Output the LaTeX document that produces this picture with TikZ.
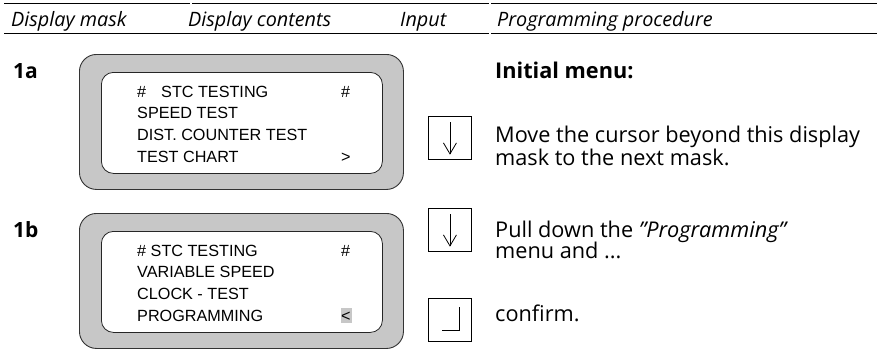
\documentclass[tikz,border=0pt]{standalone}
\usepackage{fontspec}
\setmainfont{Open Sans}
\newfontfamily\lcdfont{Liberation Sans}
\begin{document}
\begin{tikzpicture}[x=1pt,y=-1pt,
  rule/.style={line width=1pt, draw=black},
  headtext/.style={font=\fontsize{19.8}{22}\selectfont\itshape, anchor=base west, inner sep=0pt},
  steplabel/.style={font=\fontsize{21}{23}\selectfont\bfseries, anchor=base west, inner sep=0pt},
  bodytext/.style={font=\fontsize{21.7}{24}\selectfont, anchor=base west, inner sep=0pt},
  lcd/.style={font=\lcdfont\fontsize{16.2}{18}\selectfont, anchor=base west, inner sep=0pt},
  bezel/.style={draw=black!80, fill=black!22, line width=0.9pt, rounded corners=17pt,
    inner sep=0pt, anchor=north west, minimum width=324pt, minimum height=135pt},
  screen/.style={draw=black!85, fill=white, line width=0.8pt, rounded corners=12pt,
    inner sep=0pt, anchor=north west, minimum width=281pt, minimum height=101pt},
  keybox/.style={draw=black, line width=0.9pt, inner sep=0pt, anchor=north west,
    minimum width=43pt, minimum height=43pt},
  keyline/.style={line width=0.8pt, draw=black}
]
\useasboundingbox (0,0) rectangle (877,349);

% table header rules
\coordinate (t0) at (4,3);   \coordinate (t1) at (190,3);
\coordinate (t2) at (192,3); \coordinate (t3) at (489,3);
\coordinate (t4) at (491,3); \coordinate (t5) at (877,3);
\coordinate (b0) at (4,33);  \coordinate (b1) at (489,33);
\coordinate (b2) at (491,33); \coordinate (b3) at (877,33);
\draw[rule] (t0) -- (t1);
\draw[rule] (t2) -- (t3);
\draw[rule] (t4) -- (t5);
\draw[rule] (b0) -- (b1);
\draw[rule] (b2) -- (b3);

% column titles
\node[headtext] (hmask)  at (11,26)  {Display mask};
\node[headtext] (hcont)  at (188,26) {Display contents};
\node[headtext] (hinput) at (400,26) {Input};
\node[headtext] (hproc)  at (497,26) {Programming procedure};

% step 1a
\node[steplabel] (s1a) at (13,78) {1a};
\node[bezel]  (bez1) at (79,54) {};
\node[screen] (scr1) at (101,72) {};
\node[lcd] (l1a) at (137,97)  {\#};
\node[lcd] (l1b) at (161,97)  {STC TESTING};
\node[lcd] (l1c) at (341,97)  {\#};
\node[lcd] (l1d) at (137,118) {SPEED TEST};
\node[lcd] (l1e) at (137,140) {DIST. COUNTER TEST};
\node[lcd] (l1f) at (137,162) {TEST CHART};
\node[lcd] (l1g) at (341,162) {>};

\node[bodytext, font=\fontsize{21.7}{24}\selectfont\bfseries] (p1) at (495,78) {Initial menu:};
\node[keybox] (k1) at (428,116) {};
\coordinate (k1top) at ([yshift=-6pt]k1.north);
\coordinate (k1bot) at ([yshift=6pt]k1.south);
\coordinate (k1l) at ([xshift=-6.5pt,yshift=17pt]k1.south);
\coordinate (k1r) at ([xshift=6.5pt,yshift=17pt]k1.south);
\draw[keyline] (k1top) -- (k1bot);
\draw[keyline] (k1l) -- (k1bot) -- (k1r);
\node[bodytext] (p2) at (495,142) {Move the cursor beyond this display};
\node[bodytext] (p3) at (495,165) {mask to the next mask.};

% step 1b
\node[steplabel] (s1b) at (13,237) {1b};
\node[bezel]  (bez2) at (79,213) {};
\node[screen] (scr2) at (101,231) {};
\fill[black!22] (341,308) rectangle (352,323);
\node[lcd] (m1a) at (137,256) {\# STC TESTING};
\node[lcd] (m1c) at (341,256) {\#};
\node[lcd] (m1d) at (137,277) {VARIABLE SPEED};
\node[lcd] (m1e) at (137,299) {CLOCK - TEST};
\node[lcd] (m1f) at (137,321) {PROGRAMMING};
\node[lcd] (m1g) at (341,321) {<};

\node[keybox] (k2) at (428,208) {};
\coordinate (k2top) at ([yshift=-6pt]k2.north);
\coordinate (k2bot) at ([yshift=6pt]k2.south);
\coordinate (k2l) at ([xshift=-6.5pt,yshift=17pt]k2.south);
\coordinate (k2r) at ([xshift=6.5pt,yshift=17pt]k2.south);
\draw[keyline] (k2top) -- (k2bot);
\draw[keyline] (k2l) -- (k2bot) -- (k2r);
\node[bodytext] (p4) at (495,237) {Pull down the \textit{"Programming"}};
\node[bodytext] (p5) at (495,258) {menu and ...};

\node[keybox] (k3) at (428,298) {};
\coordinate (k3a) at ([xshift=14pt,yshift=-32pt]k3.north west);
\coordinate (k3b) at ([xshift=31pt,yshift=-32pt]k3.north west);
\coordinate (k3c) at ([xshift=31pt,yshift=-9pt]k3.north west);
\draw[keyline] (k3a) -- (k3b) -- (k3c);
\node[bodytext] (p6) at (495,321) {confirm.};
\end{tikzpicture}
\end{document}
